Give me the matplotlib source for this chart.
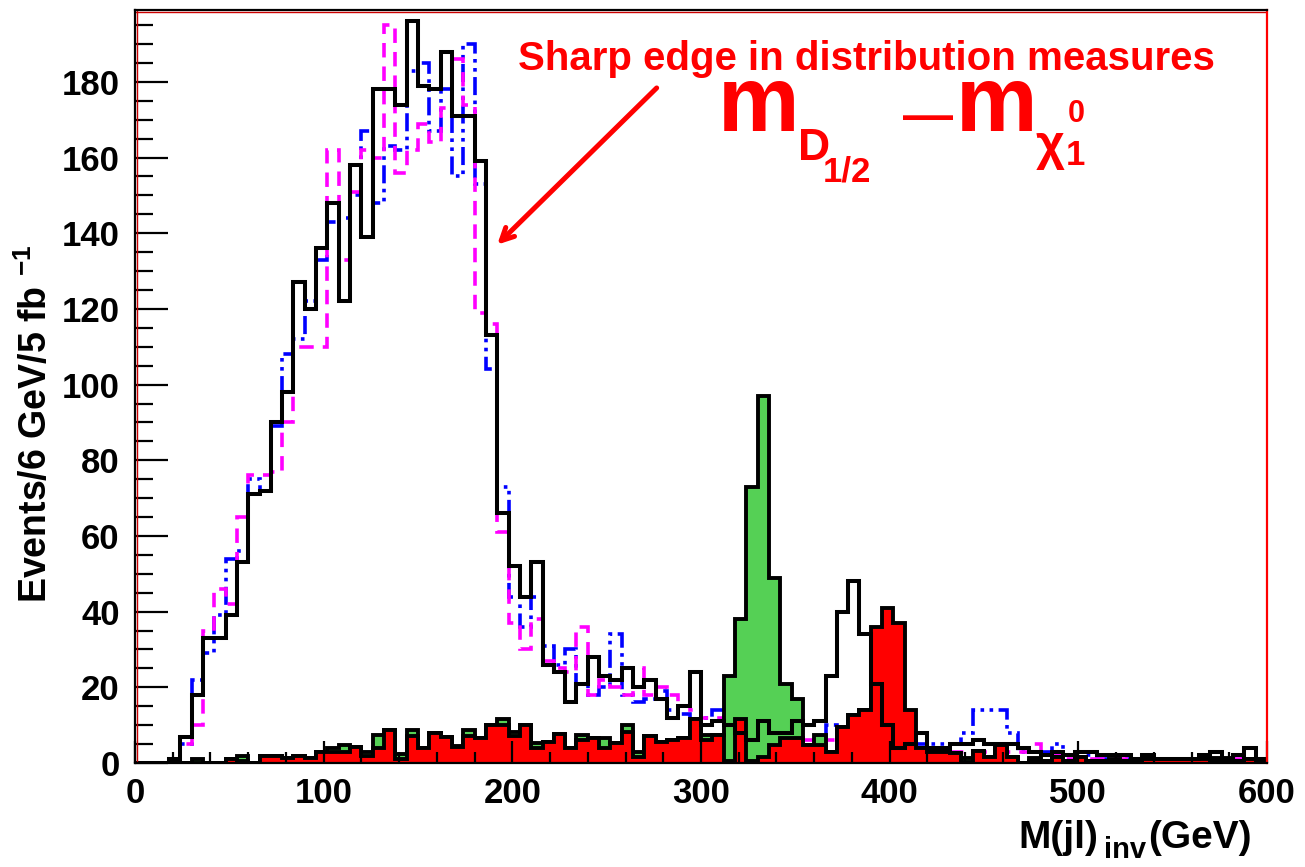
import numpy as np
import matplotlib
matplotlib.use("Agg")
import matplotlib.pyplot as plt
from matplotlib.ticker import MultipleLocator

plt.rcParams['font.family'] = ['Liberation Sans', 'DejaVu Sans']
plt.rcParams['mathtext.fontset'] = 'custom'
plt.rcParams['mathtext.rm'] = 'Liberation Sans:bold'
plt.rcParams['mathtext.bf'] = 'Liberation Sans:bold'

# 6 GeV bins from 0 to 600 GeV
edges = np.arange(0, 601, 6)

# black open histogram
total = [0, 0, 0, 1, 7, 18, 33, 33, 39, 53,
         71, 72, 90, 98, 127, 120, 136, 148, 122, 158,
         139, 178, 178, 174, 196, 179, 178, 188, 171, 171,
         159, 113, 66, 52, 44, 53, 26, 24, 16, 21,
         28, 23, 22, 25, 20, 22, 17, 12, 15, 24,
         10, 11, 10, 8, 6, 11, 8, 8, 11, 10,
         11, 23, 40, 48, 34, 21, 10, 4, 5, 8,
         4, 4, 5, 5, 6, 5, 5, 5, 4, 3,
         2, 3, 2, 3, 3, 2, 2, 2, 1, 2,
         1, 1, 1, 1, 2, 3, 1, 2, 4, 1]

# blue dash-dot
blue = [0, 0, 0, 0, 5, 22, 29, 39, 54, 56,
        75, 72, 89, 108, 112, 122, 133, 143, 144, 150,
        167, 148, 163, 162, 183, 185, 167, 178, 155, 190,
        153, 104, 73, 44, 36, 44, 31, 26, 30, 21,
        18, 20, 34, 18, 16, 17, 19, 14, 13, 11,
        12, 14, 6, 6, 5, 5, 5, 5, 4, 4,
        4, 10, 5, 5, 4, 4, 4, 4, 4, 5,
        5, 5, 5, 8, 14, 14, 14, 8, 3, 3,
        3, 5, 2, 1, 2, 1, 2, 1, 1, 1,
        1, 1, 1, 1, 1, 1, 1, 1, 1, 1]

# magenta dashed
magenta = [0, 0, 0, 0, 5, 10, 35, 46, 42, 65,
           76, 76, 77, 90, 110, 110, 110, 162, 133, 151,
           162, 160, 195, 156, 162, 169, 164, 173, 186, 174,
           119, 116, 61, 37, 30, 38, 27, 25, 24, 36,
           18, 22, 20, 18, 25, 18, 20, 18, 15, 14,
           12, 12, 6, 6, 5, 5, 5, 5, 5, 6,
           5, 6, 5, 5, 4, 4, 4, 4, 4, 4,
           3, 3, 3, 3, 3, 3, 3, 3, 3, 5,
           3, 2, 1, 1, 1, 1, 1, 1, 1, 1,
           1, 1, 1, 1, 1, 1, 1, 1, 1, 1]

# green filled
green = [0, 0, 0, 0, 0, 1, 0, 0, 1, 1.9,
         0, 1.8, 1.8, 1.2, 1.8, 1.2, 3, 4, 4.7, 4.2,
         2.8, 7.5, 8.7, 2.3, 8.7, 4, 7.9, 7, 4.5, 8.7,
         6.5, 10, 11.7, 8.3, 10, 5.4, 5.6, 7.6, 3.9, 7.4,
         6.5, 6.5, 5.2, 10, 2.9, 7.1, 5.6, 6.1, 6.7, 11.7,
         7.4, 7.4, 23, 38, 73, 97, 49, 21, 17, 4.8,
         7.4, 3, 9.6, 12.7, 14, 20, 20, 10, 6, 4,
         3, 3, 2.6, 1.2, 3.2, 1.7, 4.8, 1.7, 0, 1.2,
         0.5, 1.5, 0.5, 1.5, 0.5, 0.5, 1, 0.5, 0.5, 1,
         1, 1, 1, 1, 1, 1.2, 1.2, 0.5, 1, 0.5]

# red filled
red = [0, 0, 0, 0, 0, 0, 0, 0, 1, 0.6,
       0, 1.8, 1.8, 1.2, 1.8, 1.2, 3, 3, 3, 4.2,
       1.8, 4, 8.7, 1, 7.1, 4, 7.9, 7, 4.1, 7.1,
       6.5, 10, 10, 7.1, 10, 3.9, 5.6, 7.6, 3.9, 6.1,
       6.5, 3.9, 5.2, 8.3, 1.6, 7.1, 5.6, 6.1, 6.7, 11.7,
       6.1, 7.4, 0.5, 11.5, 0.5, 1.7, 4.8, 6.5, 6.5, 4.8,
       4.8, 3, 9.6, 12.7, 14, 36, 41, 37, 14, 4,
       3, 3, 2.6, 0.3, 3.2, 1.7, 4.8, 1.7, 0, 0.5,
       0.5, 1.5, 0.5, 1.5, 0.5, 0.5, 0.5, 0.5, 0.5, 1,
       1, 1, 1, 1, 1, 0.5, 0.5, 0.5, 1, 0.5]

W, H = 1305, 867


def fx(px):
    return px / W


def fy(py):
    return 1 - py / H


fig = plt.figure(figsize=(W / 100, H / 100), dpi=100)
ax = fig.add_axes([fx(135), fy(763), (1267 - 135) / W, (763 - 10) / H])

ax.stairs(blue, edges, color='#0000ff', lw=2.6,
          linestyle=(0, (5, 1.5, 1, 1.5, 1, 1.5)))
ax.stairs(magenta, edges, color='#ff00ff', lw=2.6, linestyle=(0, (4, 2.5)))
ax.stairs(green, edges, fill=True, facecolor='#55d055', edgecolor='black', lw=2.8)
ax.stairs(red, edges, fill=True, facecolor='#ff0000', edgecolor='black', lw=2.8)
ax.stairs(total, edges, color='black', lw=2.9)

ax.set_xlim(0, 600)
ax.set_ylim(0, 199)

ax.xaxis.set_major_locator(MultipleLocator(100))
ax.xaxis.set_minor_locator(MultipleLocator(20))
ax.yaxis.set_major_locator(MultipleLocator(20))
ax.yaxis.set_minor_locator(MultipleLocator(5))
ax.tick_params(axis='both', which='both', direction='in', width=1.6,
               top=False, right=False)
ax.tick_params(axis='y', which='major', length=24, pad=11)
ax.tick_params(axis='y', which='minor', length=13)
ax.tick_params(axis='x', which='major', length=16, pad=10)
ax.tick_params(axis='x', which='minor', length=8)
for lab in ax.get_xticklabels() + ax.get_yticklabels():
    lab.set_fontsize(25)
    lab.set_fontweight('bold')

for s in ax.spines.values():
    s.set_color('black')
    s.set_linewidth(1.6)
ax.spines['right'].set_color('#ff0000')
ax.axvline(0.9, color='#cc0000', lw=1.0)
ax.axhline(198.4, color='#cc0000', lw=1.0)

# axis titles
fig.text(fx(36), fy(424), 'Events/6 GeV/5 fb $^{-1}$', rotation=90,
         fontsize=27, fontweight='bold', ha='center', va='center')
fig.text(fx(1018), fy(848), 'M(jl)', fontsize=28, fontweight='bold',
         ha='left', va='baseline')
fig.text(fx(1104), fy(858), 'inv', fontsize=21, fontweight='bold',
         ha='left', va='baseline')
fig.text(fx(1252), fy(848), '(GeV)', fontsize=28, fontweight='bold',
         ha='right', va='baseline')

# annotation
red_c = '#ff0000'
fig.text(fx(866), fy(70), 'Sharp edge in distribution measures', color=red_c,
         fontsize=29, fontweight='bold', ha='center', va='baseline')
fig.text(fx(718), fy(131), 'm', color=red_c, fontsize=66, fontweight='bold',
         ha='left', va='baseline')
fig.text(fx(798), fy(160), 'D', color=red_c, fontsize=32, fontweight='bold',
         ha='left', va='baseline')
fig.text(fx(823), fy(182), '1/2', color=red_c, fontsize=25, fontweight='bold',
         ha='left', va='baseline')
fig.text(fx(903), fy(131), '\u2014', color=red_c, fontsize=36, fontweight='bold',
         ha='left', va='baseline')
fig.text(fx(956), fy(131), 'm', color=red_c, fontsize=66, fontweight='bold',
         ha='left', va='baseline')
fig.text(fx(1036), fy(160), '\u03c7', color=red_c, fontsize=36, fontweight='bold',
         ha='left', va='baseline')
fig.text(fx(1068), fy(122), '0', color=red_c, fontsize=22, fontweight='bold',
         ha='left', va='baseline')
fig.text(fx(1066), fy(165), '1', color=red_c, fontsize=25, fontweight='bold',
         ha='left', va='baseline')

ax.annotate('', xy=(192, 137), xytext=(276.5, 178.4),
            arrowprops=dict(arrowstyle='->,head_length=0.9,head_width=0.45',
                            color=red_c, lw=3.6, shrinkA=0, shrinkB=0))

fig.savefig('out.png', dpi=100)
